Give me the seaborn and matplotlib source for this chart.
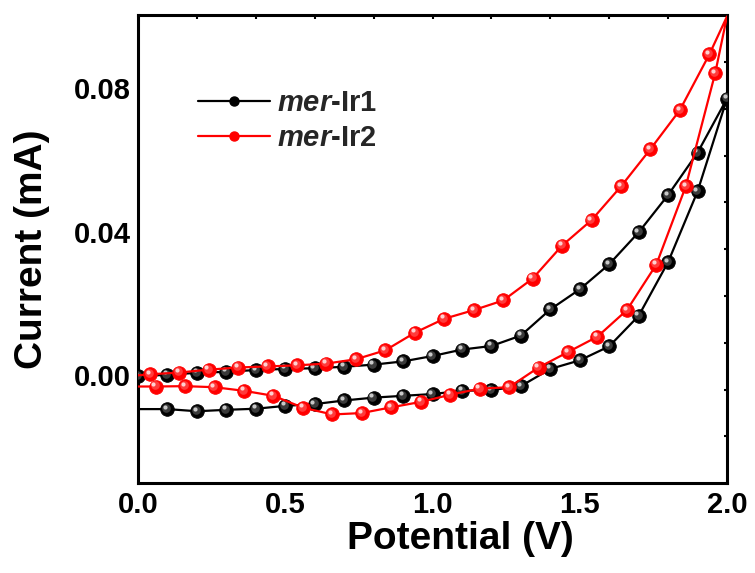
import numpy as np
import pandas as pd
import matplotlib
matplotlib.use("Agg")
import matplotlib.pyplot as plt
from matplotlib.lines import Line2D
from matplotlib.transforms import offset_copy
import seaborn as sns

# ---- cyclic voltammetry data (potential in V, current in mA) ----
ir1_potential = [0.0, 0.1, 0.2, 0.3, 0.4, 0.5, 0.6, 0.7, 0.8, 0.9, 1.0,
                 1.1, 1.2, 1.3, 1.4, 1.5, 1.6, 1.7, 1.8, 1.9, 2.0,
                 1.9, 1.8, 1.7, 1.6, 1.5, 1.4, 1.3, 1.2, 1.1, 1.0,
                 0.9, 0.8, 0.7, 0.6, 0.5, 0.4, 0.3, 0.2, 0.1, -0.03]
ir1_current = [-0.0004, 0.0001, 0.0006, 0.0009, 0.0014, 0.0017, 0.0019, 0.0023, 0.0029, 0.0038, 0.0053,
               0.0071, 0.0081, 0.0110, 0.0183, 0.0239, 0.0309, 0.0398, 0.0502, 0.0620, 0.0771,
               0.0512, 0.0315, 0.0165, 0.0080, 0.0041, 0.0017, -0.0031, -0.0042, -0.0044, -0.0053,
               -0.0058, -0.0063, -0.0071, -0.0081, -0.0086, -0.0094, -0.0097, -0.0101, -0.0095, -0.0095]

ir2_potential = [-0.03, 0.04, 0.14, 0.24, 0.34, 0.44, 0.54, 0.64, 0.74, 0.84, 0.94,
                 1.04, 1.14, 1.24, 1.34, 1.44, 1.54, 1.64, 1.74, 1.84, 1.94, 2.0,
                 1.96, 1.86, 1.76, 1.66, 1.56, 1.46, 1.36, 1.26, 1.16, 1.06,
                 0.96, 0.86, 0.76, 0.66, 0.56, 0.46, 0.36, 0.26, 0.16, 0.06, -0.03]
ir2_current = [-0.0003, 0.0002, 0.0007, 0.0015, 0.0021, 0.0024, 0.0027, 0.0032, 0.0044, 0.0069, 0.0118,
               0.0157, 0.0181, 0.0208, 0.0269, 0.0361, 0.0432, 0.0526, 0.0630, 0.0739, 0.0894, 0.1000,
               0.0842, 0.0526, 0.0308, 0.0181, 0.0107, 0.0064, 0.0021, -0.0034, -0.0038, -0.0055,
               -0.0075, -0.0090, -0.0106, -0.0110, -0.0091, -0.0058, -0.0044, -0.0034, -0.0031, -0.0032, -0.0032]

ir1_markers = list(range(0, 40))
ir2_markers = [i for i in range(1, 42) if i != 21]

series_names = ["mer-Ir1", "mer-Ir2"]
legend_labels = [r"$\mathit{mer}$-Ir1", r"$\mathit{mer}$-Ir2"]
line_colors = ["#000000", "#ff0000"]
mid_colors = ["#3a3a3a", "#ff3b3b"]
shine_colors = ["#c8c8c8", "#ffd0d0"]

x_ticks = [0.0, 0.5, 1.0, 1.5, 2.0]
y_ticks = [0.00, 0.04, 0.08]
y_tick_labels = ["0.00", "0.04", "0.08"]

sns.set_theme(style="white")
plt.rcParams["font.family"] = ["Liberation Sans", "DejaVu Sans"]
plt.rcParams["font.weight"] = "bold"
plt.rcParams["mathtext.fontset"] = "custom"
plt.rcParams["mathtext.rm"] = "Liberation Sans:bold"
plt.rcParams["mathtext.it"] = "Liberation Sans:italic:bold"
plt.rcParams["mathtext.bf"] = "Liberation Sans:bold"

fig = plt.figure(figsize=(7.55, 5.73), dpi=100)
ax = fig.add_axes([0.1828, 0.1565, 0.7801, 0.8173])

data = [(ir1_potential, ir1_current, ir1_markers),
        (ir2_potential, ir2_current, ir2_markers)]

for i, (xs, ys, mk) in enumerate(data):
    df = pd.DataFrame({"Potential": xs, "Current": ys})
    sns.lineplot(data=df, x="Potential", y="Current", sort=False, estimator=None,
                 color=line_colors[i], lw=1.6, marker="o", markersize=9.8,
                 markerfacecolor=line_colors[i], markeredgecolor=line_colors[i],
                 markeredgewidth=0.6, markevery=mk, ax=ax, zorder=3 + i)
    # sphere shading on each marker
    tr1 = offset_copy(ax.transData, fig=fig, x=-0.8, y=0.8, units="points")
    ax.plot(xs, ys, ls="none", marker="o", markersize=6.2, markeredgewidth=0,
            color=mid_colors[i], markevery=mk, transform=tr1, zorder=3.1 + i)
    tr2 = offset_copy(ax.transData, fig=fig, x=-1.6, y=1.8, units="points")
    ax.plot(xs, ys, ls="none", marker="o", markersize=3.0, markeredgewidth=0,
            color=shine_colors[i], markevery=mk, transform=tr2, zorder=3.2 + i)

ax.set_xlim(0.0, 2.0)
ax.set_ylim(-0.0302, 0.1004)
ax.set_xticks(x_ticks)
ax.set_xticklabels(["0.0", "0.5", "1.0", "1.5", "2.0"])
ax.set_xticks(np.arange(0.25, 2.0, 0.5), minor=True)
ax.set_yticks(y_ticks)
ax.set_yticklabels(y_tick_labels)
ax.set_yticks([-0.02, 0.02, 0.06], minor=True)

ax.tick_params(axis="both", which="major", direction="in", length=7, width=2,
               labelsize=21, pad=5.5, color="black", labelcolor="black",
               top=False, right=False)
ax.tick_params(axis="both", which="minor", direction="in", length=4.5, width=2,
               color="black", top=False, right=False)
for lab in ax.get_xticklabels() + ax.get_yticklabels():
    lab.set_fontweight("bold")

for sp in ax.spines.values():
    sp.set_color("black")
    sp.set_linewidth(2.2)

# fine divisions on the top and right frame
secx = ax.secondary_xaxis("top")
secx.set_xticks(np.linspace(0.0, 2.0, 11)[1:-1])
secx.tick_params(direction="in", length=3, width=1.5, labeltop=False, color="black")
secx.spines["top"].set_visible(False)
secy = ax.secondary_yaxis("right")
secy.set_yticks(np.linspace(-0.0302, 0.1004, 11)[1:-1])
secy.tick_params(direction="in", length=2.5, width=1.5, labelright=False, color="black")
secy.spines["right"].set_visible(False)

ax.set_xlabel("Potential (V)", fontsize=28, fontweight="bold", color="black")
ax.set_ylabel("Current (mA)", fontsize=28, fontweight="bold", color="black")
ax.xaxis.set_label_coords(0.547, -0.080)
ax.yaxis.set_label_coords(-0.150, 0.5)

handles = [Line2D([0], [0], color=line_colors[i], lw=1.6, marker="o", markersize=6.5,
                  markerfacecolor=line_colors[i], markeredgecolor=line_colors[i])
           for i in range(2)]
ax.legend(handles, legend_labels, loc="upper left", bbox_to_anchor=(0.102, 0.842),
          frameon=False, fontsize=21, handlelength=2.45, handletextpad=0.25,
          labelspacing=0.25, borderpad=0, borderaxespad=0)

fig.savefig("out.png", dpi=100, facecolor="white")
